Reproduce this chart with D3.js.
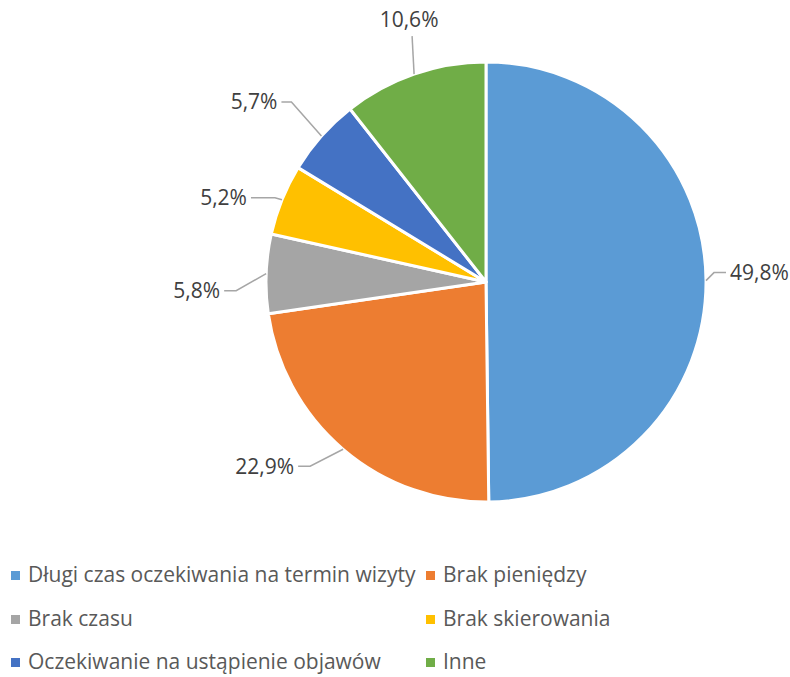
<!DOCTYPE html>
<html>
<head>
<meta charset="utf-8">
<script src="https://cdn.jsdelivr.net/npm/d3@7"></script>
<style>
  body { margin: 0; background: #fff; }
  svg { display: block; font-family: "Open Sans", sans-serif; }
  .label { fill: #404040; font-size: 21px; }
  .legend text { fill: #595959; font-size: 21px; }
  .leader { fill: none; stroke: #a6a6a6; stroke-width: 1.5; }
</style>
</head>
<body>
<div id="chart"></div>
<script>
// categories and values (percent), clockwise from 12 o'clock
const categories = [
    "Długi czas oczekiwania na termin wizyty",
    "Brak pieniędzy",
    "Brak czasu",
    "Brak skierowania",
    "Oczekiwanie na ustąpienie objawów",
    "Inne"
];
const values = [49.8, 22.9, 5.8, 5.2, 5.7, 10.6];
const colors = ["#5b9bd5", "#ed7d31", "#a5a5a5", "#ffc000", "#4472c4", "#70ad47"];

// leader line layout: elbow offset from slice edge, then horizontal run
const leaderElbow = [[8, -8], [-33, 17], [-30, 17], [-7, -2], [-30, -34], [-2, -38]];
const leaderRun = [12, -12, -12, -24, -10, 0];

const width = 790, height = 677;
const cx = 486, cy = 282, radius = 220;

let svg = d3.select("#chart").append("svg")
    .attr("width", width)
    .attr("height", height);

let pie = d3.pie().sort(null).value(d => d);
let arcs = pie(values);

let arc = d3.arc().innerRadius(0).outerRadius(radius);

let g = svg.append("g").attr("transform", "translate(" + cx + "," + cy + ")");

g.selectAll("path.slice")
    .data(arcs)
    .enter().append("path")
    .attr("class", "slice")
    .attr("d", arc)
    .attr("fill", (d, i) => colors[i])
    .attr("stroke", "#fff")
    .attr("stroke-width", 3)
    .attr("stroke-linejoin", "round");

// leader lines + labels
let fmt = v => d3.format(".1f")(v).replace(".", ",") + "%";

arcs.forEach((d, i) => {
    let mid = (d.startAngle + d.endAngle) / 2;
    let p0 = [radius * Math.sin(mid), -radius * Math.cos(mid)];
    let p1 = [p0[0] + leaderElbow[i][0], p0[1] + leaderElbow[i][1]];
    let p2 = [p1[0] + leaderRun[i], p1[1]];
    g.append("path")
        .attr("class", "leader")
        .attr("d", d3.line()([p0, p1, p2]));

    let t = g.append("text")
        .attr("class", "label")
        .text(fmt(values[i]));
    if (leaderRun[i] > 0) {
        t.attr("x", p2[0] + 4).attr("y", p2[1]).attr("dy", "0.35em").attr("text-anchor", "start");
    } else if (leaderRun[i] < 0) {
        t.attr("x", p2[0] - 4).attr("y", p2[1]).attr("dy", "0.35em").attr("text-anchor", "end");
    } else {
        t.attr("x", p2[0] - 3).attr("y", p2[1] - 9).attr("text-anchor", "middle");
    }
});

// legend, 2 columns
let legend = svg.append("g").attr("class", "legend");
let colX = [11, 426], rowY = [575, 619, 662];

let item = legend.selectAll("g")
    .data(categories)
    .enter().append("g")
    .attr("transform", (d, i) => "translate(" + colX[i % 2] + "," + rowY[Math.floor(i / 2)] + ")");

item.append("rect")
    .attr("x", 0).attr("y", -4)
    .attr("width", 9).attr("height", 9)
    .attr("fill", (d, i) => colors[i]);

item.append("text")
    .attr("x", 17)
    .attr("dy", "0.35em")
    .text(d => d);
</script>
</body>
</html>
